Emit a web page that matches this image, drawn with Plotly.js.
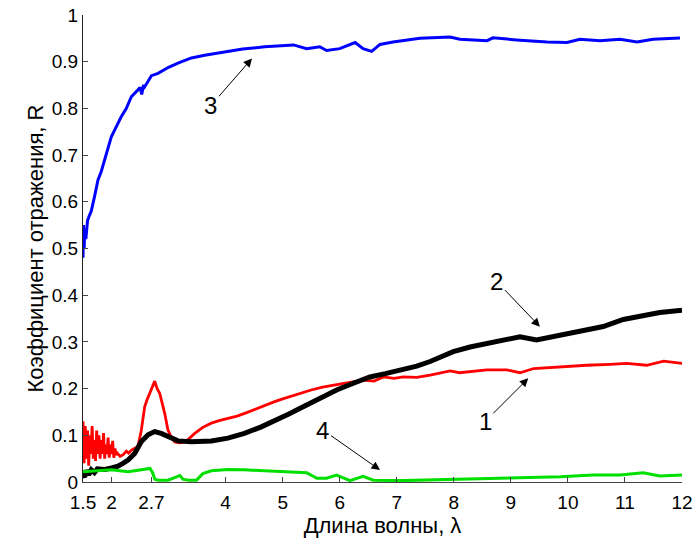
<!DOCTYPE html>
<html>
<head>
<meta charset="utf-8">
<script src="https://cdn.plot.ly/plotly-3.0.1.min.js"></script>
<style>html,body{margin:0;padding:0;background:#fff;}#chart{width:697px;height:542px;}</style>
</head>
<body>
<div id="chart"></div>
<script>
// Curve 1 (red)
var x1 = [1.50,1.52,1.54,1.56,1.58,1.60,1.62,1.64,1.66,1.68,1.70,1.72,1.74,1.76,1.78,1.80,1.82,1.84,1.86,1.88,1.90,1.92,1.94,1.96,1.98,2.00,2.02,2.04,2.06,2.08,2.10,
          2.15,2.20,2.26,2.30,2.347,2.40,2.464,2.522,2.581,2.62,2.669,2.72,2.757,2.80,2.844,2.932,2.99,3.05,3.107,3.20,3.283,3.35,3.458,3.60,3.749,3.90,4.042,4.20,4.334,4.50,4.685,4.86,
          5.00,5.20,5.36,5.50,5.70,5.945,6.20,6.41,6.60,6.77,6.95,7.115,7.35,7.585,7.935,8.10,8.285,8.58,8.93,9.16,9.40,9.87,10.33,10.74,11.03,11.38,11.68,12.00];
var y1 = [0.130,0.040,0.120,0.050,0.110,0.035,0.100,0.060,0.120,0.050,0.090,0.045,0.110,0.060,0.100,0.050,0.090,0.060,0.105,0.050,0.080,0.060,0.095,0.052,0.080,0.060,0.088,0.052,0.072,0.058,0.062,
          0.055,0.058,0.066,0.062,0.068,0.072,0.076,0.111,0.161,0.175,0.190,0.205,0.216,0.200,0.190,0.147,0.111,0.095,0.086,0.084,0.086,0.092,0.104,0.117,0.126,0.132,0.136,0.141,0.147,0.155,0.165,0.172,
          0.178,0.186,0.193,0.197,0.203,0.209,0.214,0.218,0.216,0.225,0.222,0.225,0.224,0.229,0.238,0.234,0.236,0.240,0.240,0.234,0.243,0.247,0.250,0.252,0.254,0.250,0.259,0.254];

// Curve 2 (black)
var x2 = [1.50,1.53,1.56,1.60,1.645,1.70,1.75,1.88,2.00,2.113,2.20,2.29,2.406,2.52,2.64,2.757,2.87,2.99,3.165,3.40,3.75,4.04,4.33,4.625,4.86,5.10,5.36,5.65,5.945,6.25,6.53,6.80,7.115,7.35,7.585,7.80,7.99,8.285,8.58,8.90,9.16,9.45,9.87,10.33,10.62,10.97,11.38,11.61,12.00];
var y2 = [0.015,0.011,0.025,0.015,0.026,0.020,0.028,0.027,0.030,0.034,0.040,0.047,0.061,0.086,0.101,0.108,0.104,0.097,0.088,0.086,0.088,0.094,0.104,0.118,0.130,0.145,0.161,0.180,0.197,0.212,0.225,0.232,0.240,0.248,0.258,0.270,0.279,0.289,0.297,0.305,0.311,0.304,0.315,0.325,0.333,0.348,0.358,0.363,0.368];

// Curve 3 (blue)
var x3 = [1.50,1.51,1.52,1.53,1.55,1.58,1.61,1.645,1.70,1.763,1.82,1.88,1.94,1.996,2.08,2.17,2.26,2.347,2.45,2.50,2.53,2.56,2.58,2.62,2.70,2.815,3.00,3.165,3.40,3.633,4.04,4.30,4.685,5.19,5.42,5.65,5.77,6.00,6.27,6.41,6.56,6.706,6.934,7.407,7.933,8.108,8.582,8.687,9.16,9.633,9.984,10.212,10.563,10.913,11.211,11.492,11.965];
var y3 = [0.480,0.550,0.500,0.540,0.520,0.560,0.570,0.580,0.610,0.647,0.665,0.690,0.715,0.739,0.760,0.782,0.800,0.825,0.838,0.845,0.830,0.850,0.846,0.855,0.870,0.875,0.888,0.897,0.908,0.914,0.921,0.927,0.932,0.936,0.928,0.932,0.924,0.928,0.941,0.928,0.922,0.937,0.942,0.950,0.953,0.948,0.945,0.951,0.946,0.942,0.941,0.948,0.945,0.948,0.942,0.948,0.951];

// Curve 4 (green)
var x4 = [1.50,2.00,2.29,2.58,2.675,2.72,2.76,2.815,2.99,3.14,3.20,3.25,3.35,3.49,3.60,3.75,4.04,4.33,4.625,5.07,5.42,5.60,5.77,5.945,6.18,6.41,6.59,7.115,7.99,8.98,9.87,10.44,10.91,11.32,11.61,12.00];
var y4 = [0.022,0.026,0.022,0.027,0.029,0.020,0.006,0.004,0.004,0.011,0.014,0.006,0.004,0.004,0.018,0.024,0.027,0.026,0.024,0.022,0.020,0.008,0.008,0.015,0.003,0.012,0.004,0.003,0.006,0.008,0.011,0.015,0.015,0.020,0.013,0.015];

// Axis ticks
var xTickVals = [1.5,2,2.7,4,5,6,7,8,9,10,11,12];
var xTickText = ['1.5','2','2.7','4','5','6','7','8','9','10','11','12'];
var yTickVals = [0,0.1,0.2,0.3,0.4,0.5,0.6,0.7,0.8,0.9,1];
var yTickText = ['0','0.1','0.2','0.3','0.4','0.5','0.6','0.7','0.8','0.9','1'];

// Curve labels: text, arrow head point (data), text offset (px)
var labelText = ['1','2','3','4'];
var labelX = [9.305,9.51,4.462,6.706];
var labelY = [0.222,0.3325,0.907,0.0257];
var labelAx = [-43,-43,-41,-57];
var labelAy = [43,-45,47,-40];

var FONT = 'Liberation Sans, Arial, sans-serif';

var traces = [
  {x:x1, y:y1, mode:'lines', line:{color:'#ff0000', width:2.8}, name:'1'},
  {x:x2, y:y2, mode:'lines', line:{color:'#000000', width:5}, name:'2'},
  {x:x3, y:y3, mode:'lines', line:{color:'#0000ff', width:3}, name:'3'},
  {x:x4, y:y4, mode:'lines', line:{color:'#00e000', width:3}, name:'4'}
];

var annotations = labelText.map(function(t,i){
  return {x:labelX[i], y:labelY[i], xref:'x', yref:'y', text:t, showarrow:true,
    ax:labelAx[i], ay:labelAy[i], arrowhead:2, arrowsize:1.7, arrowwidth:1, arrowcolor:'#000',
    standoff:0, font:{family:FONT, size:24, color:'#000'}};
});

var layout = {
  width:697, height:542,
  margin:{l:83, r:15, t:15, b:60},
  paper_bgcolor:'#fff', plot_bgcolor:'#fff',
  showlegend:false,
  font:{family:FONT, size:19, color:'#000'},
  xaxis:{range:[1.5,12], tickmode:'array', tickvals:xTickVals, ticktext:xTickText,
    ticks:'inside', ticklen:5, tickcolor:'#444', showline:true, linecolor:'#444', linewidth:1,
    showgrid:false, zeroline:false, mirror:false, automargin:false, ticklabelstandoff:3,
    tickfont:{family:FONT, size:19, color:'#000'},
    title:{text:'Длина волны, λ', font:{family:FONT, size:22, color:'#000'}, standoff:2}},
  yaxis:{range:[0,1], tickmode:'array', tickvals:yTickVals, ticktext:yTickText,
    ticks:'inside', ticklen:5, tickcolor:'#444', showline:true, linecolor:'#222', linewidth:1,
    showgrid:false, zeroline:false, mirror:false, automargin:false,
    tickfont:{family:FONT, size:19, color:'#000'},
    title:{text:'Коэффициент отражения, R', font:{family:FONT, size:22, color:'#000'}, standoff:2}},
  annotations:annotations
};

Plotly.newPlot('chart', traces, layout, {staticPlot:true, displayModeBar:false});
</script>
</body>
</html>
